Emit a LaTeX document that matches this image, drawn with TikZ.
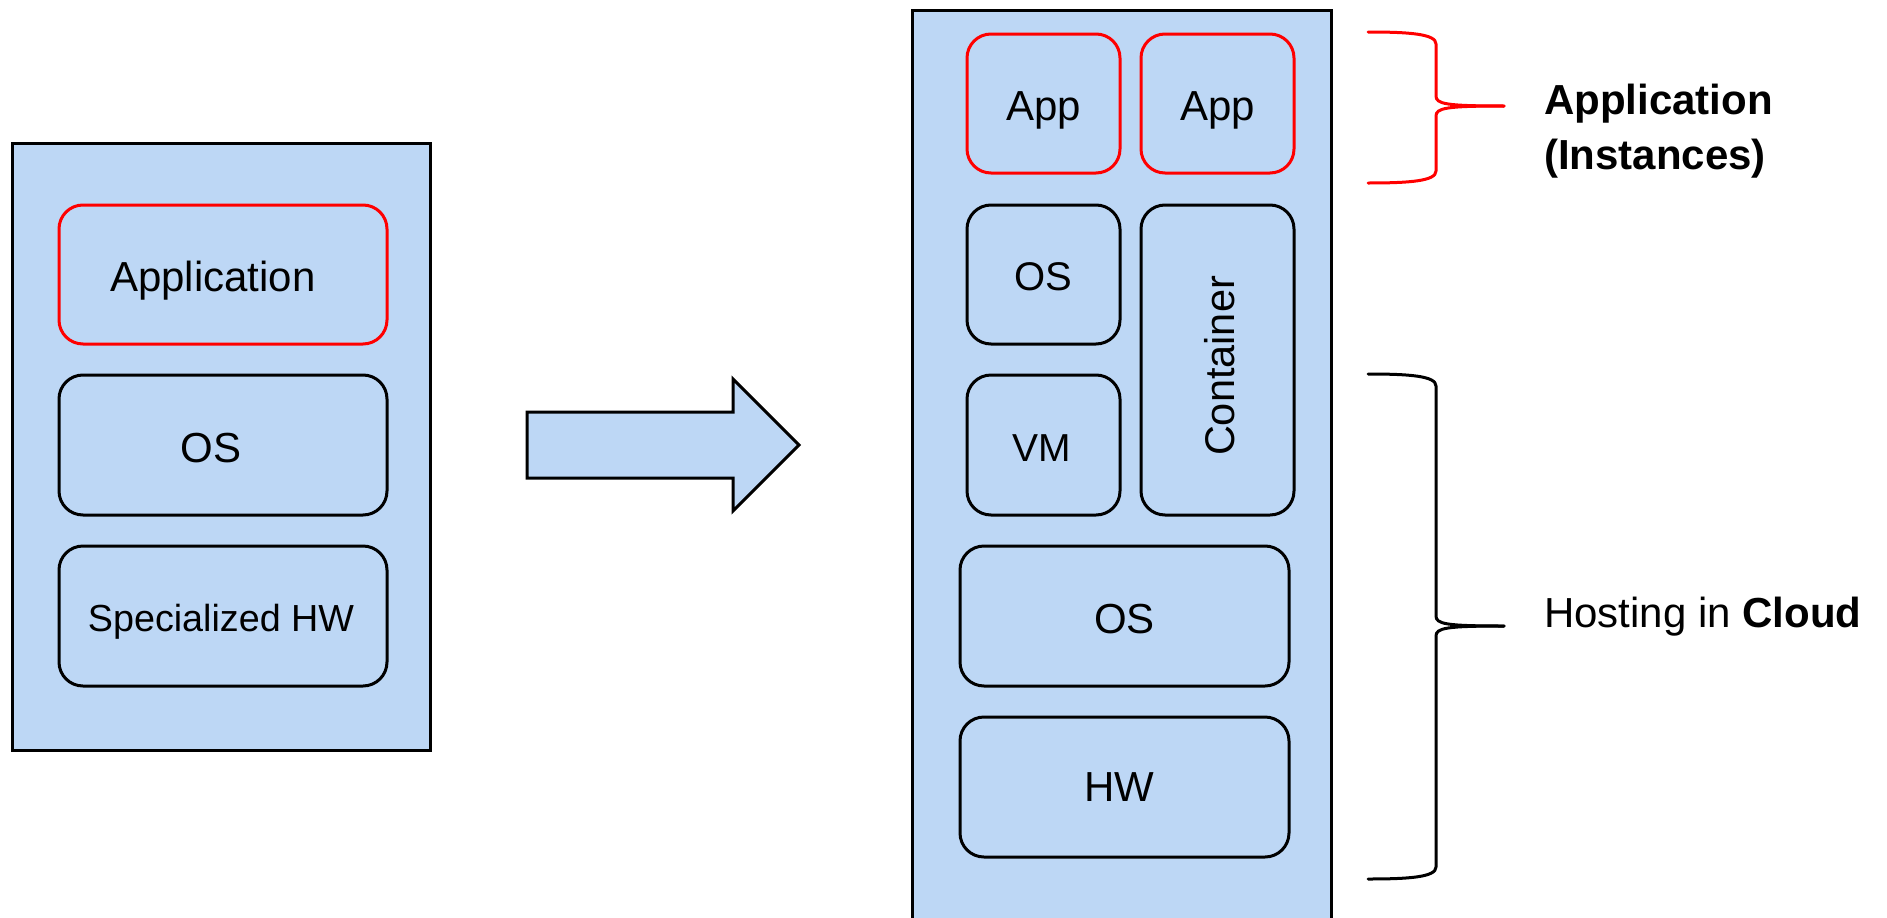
\documentclass[tikz,border=0pt]{standalone}
\usepackage{fontspec}
\setmainfont{Liberation Sans}
\definecolor{layerfill}{RGB}{189,215,245}
\definecolor{appred}{RGB}{255,0,0}
\begin{document}
\begin{tikzpicture}[x=1pt,y=-1pt,
  layer/.style={draw=black,line width=3pt,fill=layerfill,rounded corners=24pt,inner sep=0pt},
  applayer/.style={layer,draw=appred},
  frame/.style={draw=black,line width=3pt,fill=layerfill},
  txt/.style={inner sep=0pt,font=\fontsize{42}{50}\selectfont},
  brace/.style={line width=3pt,line cap=round,line join=round},
  label/.style={anchor=west,inner sep=0pt,font=\fontsize{42}{50}\selectfont,align=left}]
\useasboundingbox (0,0) rectangle (1887,918);

% classic deployment stack
\node[frame,minimum width=418pt,minimum height=607pt,inner sep=0pt] (legacy) at (221,446.5) {};
\node[applayer,minimum width=328pt,minimum height=139pt] (lapp) at (223,274.5) {};
\node[layer,minimum width=328pt,minimum height=140pt] (los) at (223,445) {};
\node[layer,minimum width=328pt,minimum height=140pt] (lhw) at (223,616) {};
\node[txt] (lapp-t) at ([shift={(-10,6)}]lapp.center) {Application};
\node[txt] (los-t) at ([shift={(-12,3)}]los.center) {OS};
\node[txt,font=\fontsize{37.7}{45}\selectfont] (lhw-t) at ([shift={(-2,6)}]lhw.center) {Specialized HW};

% block arrow between the two stacks
\coordinate (arrowtail) at (527,445);
\coordinate (arrowtip) at (799,445);
\draw[frame,line join=miter] (arrowtail) ++(0,-33) -- (733,412) -- (733,379) -- (arrowtip)
  -- (733,511) -- (733,478) -- (527,478) -- cycle;

% cloud stack, running off the lower edge
\fill[layerfill] (912,10) rectangle (1331,930);
\draw[line width=3pt] (912,930) -- (912,10) -- (1331,10) -- (1331,930);

\node[applayer,minimum width=153pt,minimum height=139pt] (app1) at (1043.5,103.5) {};
\node[applayer,minimum width=153pt,minimum height=139pt] (app2) at (1217.5,103.5) {};
\node[layer,minimum width=153pt,minimum height=139pt] (gos) at (1043.5,274.5) {};
\node[layer,minimum width=153pt,minimum height=140pt] (vm) at (1043.5,445) {};
\node[layer,minimum width=153pt,minimum height=310pt] (ctr) at (1217.5,360) {};
\node[layer,minimum width=329pt,minimum height=140pt] (hos) at (1124.5,616) {};
\node[layer,minimum width=329pt,minimum height=140pt] (hw) at (1124.5,787) {};

\node[txt] (app1-t) at ([shift={(0,7)}]app1.center) {App};
\node[txt] (app2-t) at ([shift={(0,7)}]app2.center) {App};
\node[txt,font=\fontsize{40}{48}\selectfont] (gos-t) at ([shift={(0,2)}]gos.center) {OS};
\node[txt,font=\fontsize{39}{47}\selectfont] (vm-t) at ([shift={(-2,3)}]vm.center) {VM};
\node[txt,rotate=90,font=\fontsize{41.5}{48}\selectfont] (ctr-t) at ([shift={(2,6)}]ctr.center) {Container};
\node[txt] (hos-t) at ([shift={(0,3)}]hos.center) {OS};
\node[txt] (hw-t) at ([shift={(-5,0)}]hw.center) {HW};

% braces and their captions
\coordinate (rbtop) at (1368,32);
\coordinate (rbbot) at (1368,183);
\coordinate (rbtip) at (1504,106);
\draw[brace,draw=appred] (rbtop) .. controls (1410,32) and (1436,34) .. (1436,44)
  -- (1436,96) .. controls (1436,104) and (1446,106) .. (rbtip);
\draw[brace,draw=appred] (rbbot) .. controls (1410,183) and (1436,181) .. (1436,171)
  -- (1436,116) .. controls (1436,108) and (1446,106) .. (rbtip);

\coordinate (bbtop) at (1368,374);
\coordinate (bbbot) at (1368,879);
\coordinate (bbtip) at (1504,626);
\draw[brace] (bbtop) .. controls (1410,374) and (1436,376) .. (1436,386)
  -- (1436,616) .. controls (1436,624) and (1446,626) .. (bbtip);
\draw[brace] (bbbot) .. controls (1410,879) and (1436,877) .. (1436,867)
  -- (1436,636) .. controls (1436,628) and (1446,626) .. (bbtip);

\node[label,font=\fontsize{42}{55}\selectfont\bfseries] (applbl) at (1544,131) {Application\\(Instances)};
\node[label] (hostlbl) at (1544,617) {Hosting in \textbf{Cloud}};
\end{tikzpicture}
\end{document}
